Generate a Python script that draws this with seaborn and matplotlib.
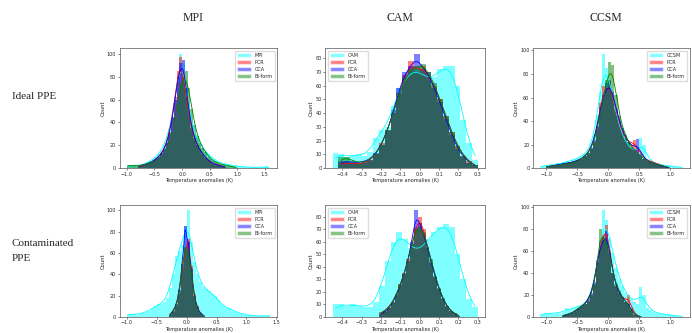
import numpy as np
import pandas as pd
import matplotlib
matplotlib.use('Agg')
import matplotlib.pyplot as plt
from matplotlib.patches import Patch
from matplotlib.ticker import MultipleLocator
import seaborn as sns

# column / row names
models = ['MPI', 'CAM', 'CCSM']
rows = ['Ideal PPE', 'Contaminated\nPPE']
methods = ['PCR', 'CCA', 'Bi-form']
colors = ['cyan', 'red', 'blue', 'green']

# ---- Ideal PPE: bin counts ----
# MPI (bins of 0.05)
mpi_ideal_start = [-1.0, -0.8, -0.8, -1.0]
mpi_ideal_model = [2, 2, 3, 2, 2, 3, 4, 5, 6, 8, 10, 12, 15, 20, 26, 34, 45, 60, 80, 100,
                   92, 70, 50, 38, 30, 26, 22, 18, 14, 12, 10, 8, 6, 5, 4, 4, 3, 3, 2, 2,
                   2, 1, 1, 1, 1, 1, 1, 0, 1, 1, 2, 0]
mpi_ideal_pcr = [2, 2, 3, 4, 5, 6, 8, 10, 13, 17, 23, 32, 45, 62, 85, 97, 80, 62, 45, 33,
                 25, 20, 16, 12, 9, 7, 5, 4, 3, 3, 2, 1]
mpi_ideal_cca = [2, 3, 3, 4, 5, 6, 8, 10, 12, 16, 22, 30, 44, 60, 80, 92, 95, 70, 48, 35,
                 26, 20, 16, 12, 9, 7, 5, 4, 3, 2, 2, 1]
mpi_ideal_bi = [3, 3, 2, 2, 2, 3, 3, 4, 5, 5, 6, 8, 10, 13, 18, 24, 32, 44, 58, 75,
                80, 85, 70, 52, 38, 28, 22, 18, 14, 10, 8, 6, 5, 4, 3, 3, 2, 2, 1, 1]

# CAM (bins of 0.03)
cam_ideal_start = [-0.45, -0.42, -0.42, -0.42]
cam_ideal_model = [11, 10, 8, 9, 10, 9, 12, 22, 28, 30, 45, 58, 66, 70, 72, 68, 64, 66, 72, 74,
                   74, 60, 35, 18, 6]
cam_ideal_pcr = [4, 4, 3, 3, 4, 5, 10, 18, 28, 40, 55, 68, 78, 70, 74, 68, 60, 50, 38, 26,
                 16, 9, 5, 2]
cam_ideal_cca = [5, 5, 4, 4, 5, 6, 11, 17, 27, 42, 58, 70, 74, 83, 72, 70, 58, 48, 36, 24,
                 14, 8, 4, 2]
cam_ideal_bi = [8, 8, 5, 4, 4, 6, 10, 17, 28, 40, 55, 66, 72, 74, 76, 70, 62, 50, 38, 26,
                16, 9, 4, 2]

# CCSM (bins of 0.05)
ccsm_ideal_start = [-1.1, -1.0, -1.0, -1.0]
ccsm_ideal_model = [2, 2, 3, 2, 3, 4, 3, 5, 6, 5, 7, 8, 9, 10, 12, 14, 18, 28, 45, 65,
                    97, 85, 75, 60, 45, 35, 28, 22, 18, 16, 14, 12, 26, 20, 8, 6, 5, 4, 3, 3,
                    2, 2, 2, 1, 1, 1]
ccsm_ideal_pcr = [1, 2, 2, 3, 3, 3, 4, 4, 5, 6, 7, 8, 10, 12, 16, 22, 35, 55, 70, 68,
                  75, 62, 48, 38, 30, 25, 22, 20, 24, 18, 10, 8, 7, 6, 5, 4, 3, 2, 1, 0]
ccsm_ideal_cca = [2, 2, 2, 3, 3, 4, 4, 5, 5, 6, 7, 8, 10, 13, 17, 24, 36, 52, 62, 72,
                  74, 65, 50, 40, 32, 26, 22, 18, 16, 25, 12, 8, 6, 5, 4, 3, 2, 2, 1, 0]
ccsm_ideal_bi = [2, 2, 2, 2, 3, 3, 4, 4, 5, 5, 6, 8, 10, 13, 16, 22, 32, 48, 60, 75,
                 90, 88, 62, 44, 34, 28, 22, 18, 15, 12, 10, 8, 6, 5, 4, 3, 3, 2, 1, 1]

# ---- Contaminated PPE ----
mpi_cont_start = [-1.0, -0.3, -0.3, -0.3]
mpi_cont_model = [3, 3, 3, 2, 3, 4, 5, 6, 8, 10, 12, 12, 14, 18, 27, 40, 57, 62, 68, 85,
                  100, 70, 52, 40, 33, 28, 26, 24, 22, 20, 16, 12, 10, 8, 8, 6, 5, 4, 3, 2,
                  2, 2, 1, 1, 1, 1, 1, 2]
mpi_cont_pcr = [2, 5, 10, 22, 45, 62, 73, 48, 22, 10, 4, 1]
mpi_cont_cca = [2, 6, 12, 25, 50, 85, 70, 45, 20, 9, 4, 2]
mpi_cont_bi = [3, 6, 11, 24, 48, 66, 62, 44, 20, 8, 3, 1]

cam_cont_start = [-0.45, -0.21, -0.21, -0.21]
cam_cont_model = [10, 10, 9, 10, 9, 8, 8, 12, 25, 45, 60, 68, 62, 55, 52, 55, 62, 68, 72, 74,
                  72, 50, 30, 14, 8]
cam_cont_pcr = [3, 5, 8, 12, 18, 26, 35, 46, 58, 72, 80, 70, 56, 44, 32, 22, 14, 8, 5, 3, 1]
cam_cont_cca = [2, 4, 7, 11, 17, 25, 34, 45, 60, 85, 75, 66, 55, 43, 32, 22, 14, 9, 5, 2, 1]
cam_cont_bi = [4, 5, 7, 12, 18, 26, 34, 45, 58, 70, 72, 68, 56, 46, 33, 23, 15, 9, 5, 3, 1]

ccsm_cont_start = [-1.1, -0.75, -0.75, -0.75]
ccsm_cont_model = [3, 3, 3, 4, 3, 4, 3, 5, 8, 6, 8, 9, 10, 10, 12, 14, 20, 30, 48, 70,
                   97, 88, 72, 58, 45, 35, 28, 22, 18, 16, 14, 12, 27, 20, 8, 6, 5, 4, 3, 3,
                   2, 2, 2, 1, 1, 1]
ccsm_cont_pcr = [1, 2, 3, 4, 6, 8, 10, 12, 15, 20, 30, 50, 68, 75, 84, 60, 40, 28, 22, 18,
                 14, 20, 8, 3, 1, 0]
ccsm_cont_cca = [1, 2, 3, 4, 5, 8, 10, 12, 16, 22, 32, 52, 65, 70, 78, 58, 40, 28, 22, 18,
                 14, 12, 6, 2, 1, 0]
ccsm_cont_bi = [2, 2, 3, 4, 6, 8, 10, 12, 14, 20, 30, 50, 80, 72, 70, 56, 40, 30, 24, 18,
                14, 10, 6, 2, 1, 0]

panels = [
    [('MPI', mpi_ideal_start, [mpi_ideal_model, mpi_ideal_pcr, mpi_ideal_cca, mpi_ideal_bi], [0.05] * 4),
     ('CAM', cam_ideal_start, [cam_ideal_model, cam_ideal_pcr, cam_ideal_cca, cam_ideal_bi], [0.03] * 4),
     ('CCSM', ccsm_ideal_start, [ccsm_ideal_model, ccsm_ideal_pcr, ccsm_ideal_cca, ccsm_ideal_bi], [0.05] * 4)],
    [('MPI', mpi_cont_start, [mpi_cont_model, mpi_cont_pcr, mpi_cont_cca, mpi_cont_bi], [0.05] * 4),
     ('CAM', cam_cont_start, [cam_cont_model, cam_cont_pcr, cam_cont_cca, cam_cont_bi], [0.03] + [0.02] * 3),
     ('CCSM', ccsm_cont_start, [ccsm_cont_model, ccsm_cont_pcr, ccsm_cont_cca, ccsm_cont_bi], [0.05] * 4)],
]

sns.set_style('ticks')
plt.rcParams['font.family'] = ['DejaVu Sans']

fig = plt.figure(figsize=(6.92, 3.33), dpi=100)

lefts = [0.173, 0.470, 0.770]
widths = [0.228, 0.231, 0.227]
bottoms = [0.495, 0.048]
heights = [0.36, 0.336]


def draw_hist(ax, start, width, counts, color):
    counts = np.asarray(counts, dtype=float)
    n = len(counts)
    centers = start + width * (np.arange(n) + 0.5)
    df = pd.DataFrame({'x': centers, 'w': counts})
    sns.histplot(data=df, x='x', weights='w', binwidth=width,
                 binrange=(start, start + width * n), kde=True,
                 kde_kws={'bw_adjust': 0.35}, color=color,
                 alpha=0.5, linewidth=0, line_kws={'linewidth': 0.6}, ax=ax)


for r, row in enumerate(panels):
    for c, (name, starts, series, ws) in enumerate(row):
        ax = fig.add_axes([lefts[c], bottoms[r], widths[c], heights[r]])
        for start, counts, w, col in zip(starts, series, ws, colors):
            draw_hist(ax, start, w, counts, col)
        ax.set_xlabel('Temperature anomalies (K)', fontsize=3.6, labelpad=1)
        ax.set_ylabel('Count', fontsize=3.8, labelpad=1)
        ax.tick_params(labelsize=3.5, length=1.5, width=0.4, pad=1)
        for s in ax.spines.values():
            s.set_linewidth(0.5)
            s.set_color('#555555')
        ax.yaxis.set_major_locator(MultipleLocator(10 if name == 'CAM' else 20))
        handles = [Patch(facecolor=col, alpha=0.5) for col in colors]
        labels = [name] + methods
        ax.legend(handles, labels, loc='upper left' if name == 'CAM' else 'upper right',
                  fontsize=3.5, handlelength=2.8, handleheight=0.9, frameon=True,
                  framealpha=1, edgecolor='#dddddd', borderpad=0.5, labelspacing=0.4)

for c, name in enumerate(models):
    fig.text(lefts[c] + widths[c] / 2 - 0.008, 0.946, name, ha='center', va='center',
             fontsize=8.5, family=['Liberation Serif'])

fig.text(0.017, 0.709, rows[0], ha='left', va='center', fontsize=8, family=['Liberation Serif'])
fig.text(0.017, 0.246, rows[1], ha='left', va='center', fontsize=8, linespacing=1.9,
         family=['Liberation Serif'])

fig.savefig('out.png', dpi=100)
